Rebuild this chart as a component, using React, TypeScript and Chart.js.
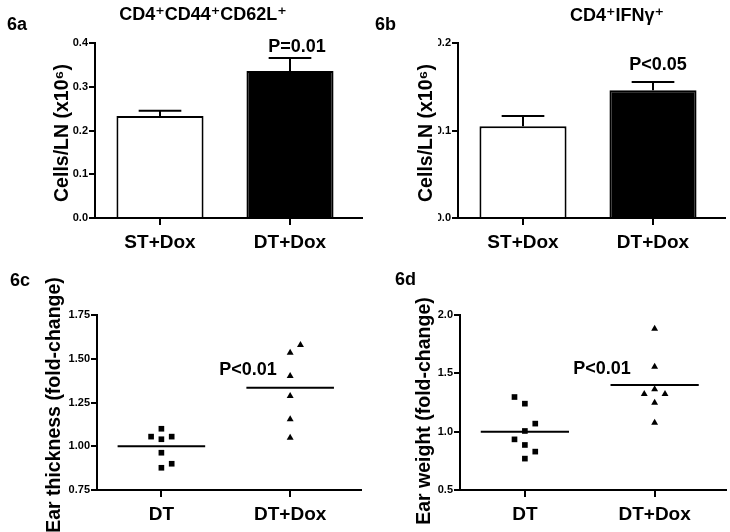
import React, { useEffect, useRef } from "react";
import { Chart, registerables } from "chart.js";

Chart.register(...registerables);

const FONT = "'Liberation Sans', Arial, 'DejaVu Sans', sans-serif";

// ---------- Data ----------
// 6a / 6b : bar panels
const barCategories = ["ST+Dox", "DT+Dox"];
const barFills = ["#ffffff", "#000000"];
const memoryCells = [0.233, 0.336]; // CD4+CD44+CD62L+ (x10^6)
const memoryCellsErr = [0.012, 0.03];
const ifngCells = [0.105, 0.146]; // CD4+IFNg+ (x10^6)
const ifngCellsErr = [0.0115, 0.0095];

// 6c / 6d : dot panels
const dotCategories = ["DT", "DT+Dox"];
const thicknessDT = [1.1, 1.055, 1.04, 1.055, 0.963, 0.9, 0.877];
const thicknessDTJitter = [0, -0.08, 0, 0.08, 0, 0.08, 0];
const thicknessDox = [1.579, 1.535, 1.401, 1.287, 1.154, 1.049];
const thicknessDoxJitter = [0.08, 0, 0, 0, 0, 0];
const thicknessMeans = [1.0, 1.335];

const weightDT = [1.297, 1.24, 1.069, 1.006, 0.934, 0.886, 0.829, 0.769];
const weightDTJitter = [-0.08, 0, 0.08, 0, -0.08, 0, 0.08, 0];
const weightDox = [1.883, 1.557, 1.363, 1.323, 1.323, 1.248, 1.077];
const weightDoxJitter = [0, 0, 0, -0.08, 0.08, 0, 0];
const weightMeans = [1.0, 1.4];

// ---------- Helpers ----------
type TextItem = { text: string; x: number; y: number; size: number; align?: CanvasTextAlign; rotate?: boolean };

const overlayPlugin = (items: TextItem[], mask?: [number, number]) => ({
  id: "overlayText",
  afterDraw(chart: any) {
    const ctx = chart.ctx as CanvasRenderingContext2D;
    ctx.save();
    if (mask) {
      ctx.fillStyle = "#ffffff";
      ctx.fillRect(mask[0], 0, mask[1] - mask[0], chart.height);
    }
    ctx.fillStyle = "#000000";
    for (const it of items) {
      ctx.save();
      ctx.font = `bold ${it.size}px ${FONT}`;
      ctx.textAlign = it.align ?? "center";
      ctx.textBaseline = "middle";
      ctx.translate(it.x, it.y);
      if (it.rotate) ctx.rotate(-Math.PI / 2);
      ctx.fillText(it.text, 0, 0);
      ctx.restore();
    }
    ctx.restore();
  },
});

const errorBarPlugin = (errs: number[]) => ({
  id: "errorBars",
  afterDatasetsDraw(chart: any) {
    const meta = chart.getDatasetMeta(0);
    const yScale = chart.scales.y;
    const ctx = chart.ctx as CanvasRenderingContext2D;
    ctx.save();
    ctx.strokeStyle = "#000";
    ctx.lineWidth = 2;
    meta.data.forEach((el: any, i: number) => {
      const v = chart.data.datasets[0].data[i].y;
      const top = yScale.getPixelForValue(v + errs[i]);
      const half = el.width * 0.245;
      ctx.beginPath();
      ctx.moveTo(el.x, el.y);
      ctx.lineTo(el.x, top);
      ctx.moveTo(el.x - half, top);
      ctx.lineTo(el.x + half, top);
      ctx.stroke();
    });
    ctx.restore();
  },
});

const W = 365;
const H = 266;
const CHART_W = 266.5;

function xScale(labels: string[], height: number) {
  return {
    type: "linear",
    min: -0.5,
    max: 1.55,
    offset: false,
    afterBuildTicks: (s: any) => {
      s.ticks = labels.map((_, i) => ({ value: i }));
    },
    afterFit: (s: any) => {
      s.height = height;
    },
    ticks: {
      autoSkip: false,
      maxRotation: 0,
      padding: 6,
      color: "#000",
      font: { family: FONT, size: 19, weight: "bold" },
      callback: (v: any) => labels[Math.round(Number(v))] ?? "",
    },
    grid: { drawOnChartArea: false, drawTicks: true, tickLength: 7, color: "#000", lineWidth: 2, offset: false },
    border: { display: true, color: "#000", width: 2 },
  };
}

function yScale(min: number, max: number, step: number, digits: number, width: number) {
  return {
    type: "linear",
    min,
    max,
    afterFit: (s: any) => {
      s.width = width;
    },
    ticks: {
      stepSize: step,
      padding: 1,
      color: "#000",
      font: { family: FONT, size: 11, weight: "bold" },
      callback: (v: any) => Number(v).toFixed(digits),
    },
    grid: { drawOnChartArea: false, drawTicks: true, tickLength: 6, color: "#000", lineWidth: 2 },
    border: { display: true, color: "#000", width: 2 },
  };
}

function barConfig(values: number[], errs: number[], yMax: number, chartLeft: number, texts: TextItem[], mask?: [number, number]) {
  return {
    type: "bar",
    data: {
      datasets: [
        {
          data: values.map((v, i) => ({ x: i, y: v })),
          backgroundColor: barFills,
          borderColor: "#000",
          borderWidth: 2,
          barPercentage: 0.67,
          categoryPercentage: 1,
        },
      ],
    },
    options: {
      animation: false,
      responsive: false,
      events: [],
      layout: { padding: { left: 0, top: 43, right: W - chartLeft - CHART_W, bottom: 0 } },
      plugins: { legend: { display: false }, tooltip: { enabled: false }, title: { display: false } },
      scales: {
        x: xScale(barCategories, H - 218),
        y: yScale(0, yMax, 0.1, 1, chartLeft),
      },
    },
    plugins: [errorBarPlugin(errs), overlayPlugin(texts, mask)],
  };
}

function dotConfig(
  dt: number[], dtJ: number[], dox: number[], doxJ: number[], means: number[],
  yMin: number, yMax: number, step: number, digits: number, chartLeft: number, texts: TextItem[]
) {
  const half = 0.34;
  return {
    type: "scatter",
    data: {
      datasets: [
        {
          data: dt.map((v, i) => ({ x: 0 + dtJ[i], y: v })),
          pointStyle: "rect",
          pointRadius: 4,
          backgroundColor: "#000",
          borderColor: "#000",
          borderWidth: 0,
        },
        {
          data: dox.map((v, i) => ({ x: 1 + doxJ[i], y: v })),
          pointStyle: "triangle",
          pointRadius: 4,
          backgroundColor: "#000",
          borderColor: "#000",
          borderWidth: 0,
        },
        ...means.map((m, i) => ({
          data: [
            { x: i - half, y: m },
            { x: i + half, y: m },
          ],
          showLine: true,
          pointRadius: 0,
          borderColor: "#000",
          borderWidth: 2,
        })),
      ],
    },
    options: {
      animation: false,
      responsive: false,
      events: [],
      layout: { padding: { left: 0, top: 49, right: W - chartLeft - CHART_W, bottom: 0 } },
      plugins: { legend: { display: false }, tooltip: { enabled: false }, title: { display: false } },
      scales: {
        x: xScale(dotCategories, H - 224),
        y: yScale(yMin, yMax, step, digits, chartLeft),
      },
    },
    plugins: [overlayPlugin(texts)],
  };
}

// ---------- Panels ----------
const panels = [
  {
    left: 0,
    top: 0,
    make: () =>
      barConfig(memoryCells, memoryCellsErr, 0.4, 95, [
        { text: "6a", x: 7, y: 25, size: 18, align: "left" },
        { text: "CD4⁺CD44⁺CD62L⁺", x: 203, y: 15, size: 18 },
        { text: "Cells/LN (x10⁶)", x: 63, y: 133, size: 19.5, rotate: true },
        { text: "P=0.01", x: 297, y: 47, size: 18 },
      ]),
  },
  {
    left: 365,
    top: 0,
    make: () =>
      barConfig(
        ifngCells,
        ifngCellsErr,
        0.2,
        93,
        [
          { text: "6b", x: 10, y: 25, size: 18, align: "left" },
          { text: "CD4⁺IFNγ⁺", x: 252, y: 16, size: 18 },
          { text: "Cells/LN (x10⁶)", x: 62, y: 133, size: 19.5, rotate: true },
          { text: "P<0.05", x: 293, y: 65, size: 18 },
        ],
        [0, 73]
      ),
  },
  {
    left: 0,
    top: 266,
    make: () =>
      dotConfig(thicknessDT, thicknessDTJitter, thicknessDox, thicknessDoxJitter, thicknessMeans, 0.75, 1.75, 0.25, 2, 97, [
        { text: "6c", x: 10, y: 15, size: 18, align: "left" },
        { text: "Ear thickness (fold-change)", x: 55, y: 139, size: 19.5, rotate: true },
        { text: "P<0.01", x: 248, y: 104, size: 18 },
      ]),
  },
  {
    left: 365,
    top: 266,
    make: () =>
      dotConfig(weightDT, weightDTJitter, weightDox, weightDoxJitter, weightMeans, 0.5, 2.0, 0.5, 1, 95, [
        { text: "6d", x: 30, y: 14, size: 18, align: "left" },
        { text: "Ear weight (fold-change)", x: 60, y: 145, size: 19.5, rotate: true },
        { text: "P<0.01", x: 237, y: 103, size: 18 },
      ]),
  },
];

function Panel({ left, top, make }: { left: number; top: number; make: () => any }) {
  const ref = useRef<HTMLCanvasElement>(null);
  useEffect(() => {
    const chart = new Chart(ref.current as HTMLCanvasElement, make());
    return () => chart.destroy();
  }, []);
  return (
    <canvas
      ref={ref}
      width={W}
      height={H}
      style={{ position: "absolute", left, top, width: W, height: H }}
    />
  );
}

export default function App() {
  return (
    <div style={{ position: "absolute", left: 0, top: 0, width: 730, height: 532, background: "#fff" }}>
      {panels.map((p, i) => (
        <Panel key={i} left={p.left} top={p.top} make={p.make} />
      ))}
    </div>
  );
}
